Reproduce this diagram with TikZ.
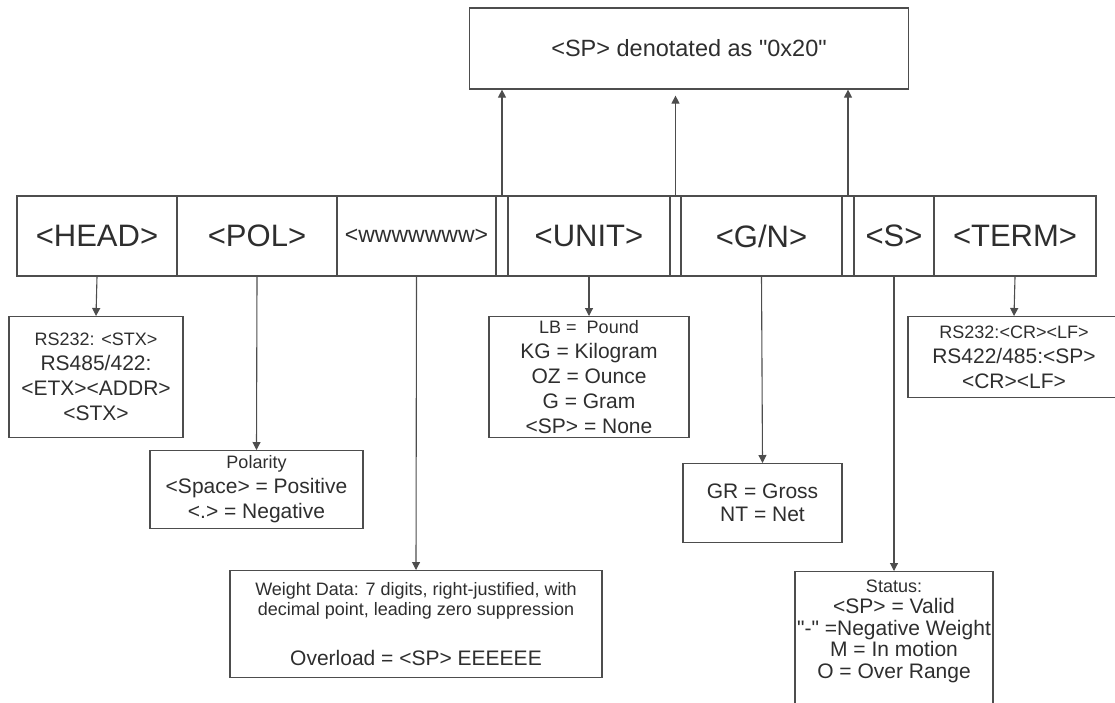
\documentclass[tikz,border=0pt]{standalone}
\usepackage{fontspec}
\setmainfont{Liberation Sans}
\usetikzlibrary{arrows.meta,positioning}
\definecolor{ink}{HTML}{2E2E2E}
\definecolor{edge}{HTML}{4D4D4D}
\newcommand{\fsz}[2]{\fontsize{#1}{#2}\selectfont}

\begin{document}
\begin{tikzpicture}[x=1pt, y=-1pt, line cap=round,
  cell/.style={draw=edge, line width=1.2pt, minimum height=80, inner sep=0pt,
    text=ink, font=\fsz{31}{34}},
  gap/.style={cell, minimum width=12},
  descbox/.style={draw=edge, line width=1.2pt, align=center, inner sep=0pt,
    text=ink, font=\fsz{21}{25}, anchor=north},
  link/.style={draw=edge, line width=1.1pt, -{Triangle[length=8pt,width=8pt]}}]
\useasboundingbox (0,0) rectangle (1115,702);

% note on top
\node[descbox, anchor=center, minimum width=439, minimum height=81,
  font=\fsz{23.5}{26}] (note) at (689,48.5) {<SP> denotated as \textquotedbl 0x20\textquotedbl};

% the frame
\node[cell, minimum width=160] (head) at (97,236) {<HEAD>};
\node[cell, minimum width=160] (pol) at (257,236) {<POL>};
\node[cell, minimum width=159, font=\fsz{23}{26}] (wdata) at (416.5,236) {<wwwwwww>};
\node[gap] (sp1) at (502,236) {};
\node[cell, minimum width=162] (unit) at (589,236) {<UNIT>};
\node[gap, minimum width=11] (sp2) at (675.5,236) {};
\node[cell, minimum width=161] (gn) at (761.5,236) {<G/N>};
\node[gap] (sp3) at (848,236) {};
\node[cell, minimum width=80] (stat) at (894,236) {<S>};
\node[cell, minimum width=162] (term) at (1015,236) {<TERM>};

% descriptions
\node[descbox, minimum width=174, minimum height=121] (headbox) at (96,316)
  {{\fsz{18}{20}RS232: <STX>}\\RS485/422:\\<ETX><ADDR>\\<STX>};
\node[descbox, minimum width=213, minimum height=78] (polbox) at (256.5,450)
  {{\fsz{18}{20}Polarity}\\<Space> = Positive\\<.> = Negative};
\node[descbox, minimum width=372, minimum height=107, font=\fsz{18}{20}] (wbox) at (416,570)
  {Weight Data: 7 digits, right-justified, with\\decimal point, leading zero suppression\\[30pt]
   {\fsz{21}{25}Overload = <SP> EEEEEE}};
\node[descbox, minimum width=200, minimum height=121] (unitbox) at (589,316)
  {{\fsz{18}{20}LB = \ Pound}\\KG = Kilogram\\OZ = Ounce\\G = Gram\\<SP> = None};
\node[descbox, minimum width=159, minimum height=79, font=\fsz{21}{23}] (gnbox) at (762.5,463)
  {GR = Gross\\NT = Net};
\node[descbox, minimum width=198, minimum height=136, font=\fsz{21}{21.5}] (statbox) at (894,571)
  {{\fsz{18}{20}Status:}\\<SP> = Valid\\\textquotedbl-\textquotedbl{} =Negative Weight\\M = In motion\\O = Over Range\\~};
\node[descbox, minimum width=212, minimum height=81] (termbox) at (1014,316)
  {{\fsz{18}{20}RS232:<CR><LF>}\\RS422/485:<SP>\\<CR><LF>};

% arrows down
\draw[link] (head.south) -- (headbox.north);
\draw[link] (pol.south) -- (polbox.north);
\draw[link] (wdata.south) -- (wbox.north);
\draw[link] (unit.south) -- (unitbox.north);
\draw[link] (gn.south) -- (gnbox.north);
\draw[link] (stat.south) -- (statbox.north);
\draw[link] (term.south) -- (termbox.north);

% arrows up to the note
\draw[link] (sp1.north) -- (sp1.north |- note.south);
\draw[link, shorten >=6pt] (sp2.north) -- (sp2.north |- note.south);
\draw[link] (sp3.north) -- (sp3.north |- note.south);
\end{tikzpicture}
\end{document}
